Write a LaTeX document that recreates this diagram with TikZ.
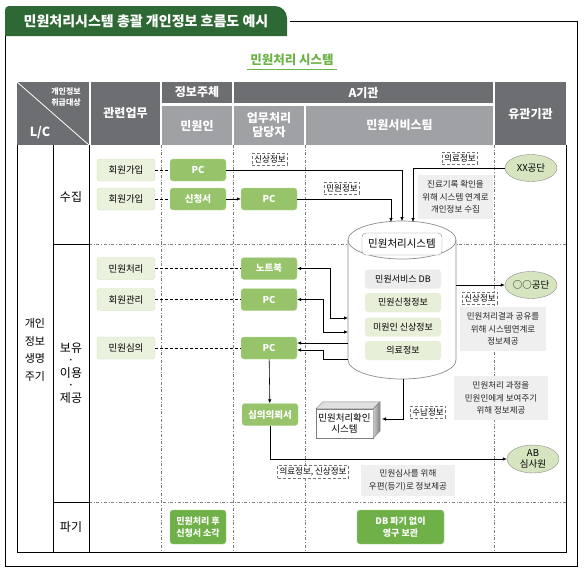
\documentclass[tikz,border=0pt]{standalone}
\usepackage{fontspec}
\setmainfont{Noto Sans CJK KR}
\usetikzlibrary{arrows.meta,shapes.geometric}
\definecolor{tabgreen}{RGB}{46,104,52}
\definecolor{subgreen}{RGB}{108,178,70}
\definecolor{hdark}{RGB}{109,110,113}
\definecolor{hlight}{RGB}{160,161,164}
\definecolor{taskfill}{RGB}{234,242,222}
\definecolor{taskline}{RGB}{207,225,184}
\definecolor{pcfill}{RGB}{151,196,106}
\definecolor{pcline}{RGB}{184,216,156}
\definecolor{endfill}{RGB}{111,176,72}
\definecolor{endline}{RGB}{160,205,130}
\definecolor{orgfill}{RGB}{214,229,192}
\definecolor{notefill}{RGB}{239,239,239}
\definecolor{dbgreen}{RGB}{231,239,217}
\definecolor{dbgray}{RGB}{236,236,236}
\newcommand{\fsz}[2]{\fontsize{#1}{#2}\selectfont}

\begin{document}
\begin{tikzpicture}[x=1pt, y=-1pt, >={Latex[length=4pt,width=3.5pt]},
  headdark/.style={fill=hdark, text=white, inner sep=0pt, align=center, font=\bfseries\fsz{12}{14}},
  headlight/.style={headdark, fill=hlight},
  task/.style={draw=taskline, fill=taskfill, rounded corners=3pt, minimum width=58pt, minimum height=22pt, inner sep=1pt, font=\fsz{9.5}{11}},
  pcbox/.style={draw=pcline, fill=pcfill, rounded corners=3pt, minimum width=56pt, minimum height=22pt, inner sep=1pt, text=white, font=\bfseries\fsz{9.5}{11}},
  endbox/.style={pcbox, fill=endfill, draw=endline, align=center, font=\bfseries\fsz{9}{12}},
  tag/.style={draw=black!55, densely dashed, fill=white, inner sep=2pt, font=\fsz{8.5}{9.5}},
  note/.style={fill=notefill, inner sep=1pt, align=center, font=\fsz{8.5}{12.5}, text=black!85},
  org/.style={ellipse, draw=black!45, fill=orgfill, minimum width=52pt, minimum height=27pt, inner sep=0pt, align=center, font=\fsz{9.5}{10.5}},
  dbitem/.style={rounded corners=3pt, fill=dbgreen, minimum width=76pt, minimum height=19pt, inner sep=1pt, font=\fsz{9}{10}},
  laneline/.style={draw=black!50, dash dot, line width=0.5pt},
  link/.style={densely dashed, line width=0.5pt},
  flow/.style={->, line width=0.6pt}]
  \useasboundingbox (0,0) rectangle (587,576);
  % ---------------------------------------------------------------- title tab and frame
  \fill[tabgreen] (5,36) [rounded corners=4pt] -- (5,6) [rounded corners=12pt] -- (287,6) [sharp corners] -- (287,36) -- cycle;
  \node[text=white, font=\bfseries\fsz{14}{16}] (title) at (146,21) {민원처리시스템 총괄 개인정보 흐름도 예시};
  \draw[line width=0.9pt] (290,21) -- (577,21) -- (577,566) -- (5,566) -- (5,36);
  \node[text=subgreen, font=\bfseries\fsz{12.5}{14}, inner sep=3pt] (subtitle) at (292,60) {민원처리 시스템};
  \draw[subgreen, line width=0.8pt] (subtitle.south west) -- (subtitle.south east);
  % ---------------------------------------------------------------- header row
  \node[headdark, minimum width=72pt, minimum height=63pt] (hLC) at (53,113.5) {};
  \draw[white, line width=0.8pt] (hLC.north west) -- (hLC.south east);
  \node[text=white, font=\bfseries\fsz{8}{11.5}, align=center] (hLCtop) at (66,97) {개인정보\\취급대상};
  \node[text=white, font=\bfseries\fsz{12.5}{14}] (hLCbot) at (40,133) {L/C};
  \node[headdark, minimum width=69pt, minimum height=63pt] (hWork) at (125.5,113.5) {관련업무};
  \node[headdark, minimum width=70pt, minimum height=21pt] (hSubj) at (197,92.5) {정보주체};
  \node[headdark, minimum width=259pt, minimum height=21pt] (hAorg) at (363.5,92.5) {A기관};
  \node[headlight, minimum width=70pt, minimum height=39pt] (hCitizen) at (197,125.5) {민원인};
  \node[headlight, minimum width=70pt, minimum height=39pt] (hStaff) at (269,125.5) {업무처리\\담당자};
  \node[headlight, minimum width=187pt, minimum height=39pt] (hTeam) at (399.5,125.5) {민원서비스팀};
  \node[headdark, minimum width=71pt, minimum height=63pt] (hRel) at (530.5,113.5) {유관기관};
  % ---------------------------------------------------------------- body grid
  \foreach \x in {161,233,305,494}
    \draw[laneline] (\x,145) -- (\x,552);
  \foreach \y in {244,502}
    \draw[laneline] (89,\y) -- (566,\y);
  \draw[line width=0.7pt] (17,145) -- (17,552) -- (566,552) -- (566,145);
  \draw[line width=0.7pt] (53,145) -- (53,552);
  \draw[line width=0.7pt] (89,145) -- (89,552);
  \draw[line width=0.7pt] (53,244) -- (89,244);
  \draw[line width=0.7pt] (53,502) -- (89,502);
  \node[font=\fsz{11}{17.5}, align=center] (lcLabel) at (35,350) {개인\\정보\\생명\\주기};
  \node[font=\fsz{12}{14}] (rCollect) at (71,197) {수집};
  \node[font=\fsz{12}{12.5}, align=center] (rUse) at (71,373) {보유\\·\\이용\\·\\제공};
  \node[font=\fsz{12}{14}] (rDestroy) at (71,527) {파기};
  % ---------------------------------------------------------------- notes
  \node[note, minimum width=75pt, minimum height=44pt] (nXX) at (455.5,197) {진료기록 확인을\\위해 시스템 연계로\\개인정보 수집};
  \node[note, minimum width=86pt, minimum height=44pt] (nOO) at (503,329) {민원처리결과 공유를\\위해 시스템연계로\\정보제공};
  \node[note, minimum width=94pt, minimum height=44pt] (nView) at (501,398) {민원처리 과정을\\민원인에게 보여주기\\위해 정보제공};
  \node[note, minimum width=94pt, minimum height=31pt] (nPost) at (408,480.5) {민원심사를 위해\\우편(등기)로 정보제공};
  % ---------------------------------------------------------------- the system store
  \fill[white] (348,240) -- (348,360) arc[start angle=180, end angle=360, x radius=54pt, y radius=19pt] -- (456,240) arc[start angle=0, end angle=180, x radius=54pt, y radius=19pt] -- cycle;
  \draw[black!45, line width=0.7pt] (348,240) -- (348,360) arc[start angle=180, end angle=360, x radius=54pt, y radius=19pt] -- (456,240);
  \draw[black!45, line width=0.7pt] (402,240) ellipse[x radius=54pt, y radius=19pt];
  \node[draw=black!45, fill=white, rounded corners=4pt, minimum width=80pt, minimum height=22pt, font=\fsz{10.5}{12}] (dbTitle) at (402,244) {민원처리시스템};
  \node[dbitem, fill=dbgray] (dbMain) at (403,279) {민원서비스 DB};
  \node[dbitem] (dbApply) at (403,302.5) {민원신청정보};
  \node[dbitem] (dbPerson) at (403,327) {미원인 신상정보};
  \node[dbitem] (dbMed) at (403,350.5) {의료정보};
  \coordinate (cylInA) at (391,222);
  \coordinate (cylInB) at (402,221);
  \coordinate (cylInC) at (413,222);
  \coordinate (cylL1) at (348,318);
  \coordinate (cylL2) at (348,332);
  \coordinate (cylL3) at (348,343);
  \coordinate (cylL4) at (348,359);
  \coordinate (cylR) at (456,285);
  \coordinate (cylBot) at (403,379);
  % ---------------------------------------------------------------- tasks and media
  \node[task] (jJoinA) at (126,170) {회원가입};
  \node[task] (jJoinB) at (126,199) {회원가입};
  \node[task] (jProc) at (126,268.5) {민원처리};
  \node[task] (jMember) at (126,299.5) {회원관리};
  \node[task] (jReview) at (126,348) {민원심의};
  \node[pcbox] (cPC) at (198,170) {PC};
  \node[pcbox] (cForm) at (198,199) {신청서};
  \node[pcbox] (sPC) at (269,199) {PC};
  \node[pcbox] (sNote) at (269,268.5) {노트북};
  \node[pcbox] (sPCb) at (269,299.5) {PC};
  \node[pcbox] (sPCc) at (269,348) {PC};
  \node[pcbox] (sReport) at (270,414.5) {심의의뢰서};
  \node[endbox, minimum height=34pt] (cBurn) at (198,527) {민원처리 후\\신청서 소각};
  \node[endbox, minimum width=87pt, minimum height=34pt] (dbKeep) at (400.5,527) {DB 파기 없이\\영구 보관};
  % the check system, drawn as a box
  \node[draw=black!50, fill=white, minimum width=57pt, minimum height=29pt, inner sep=0pt, align=center, font=\fsz{9.5}{11}] (confSys) at (344.5,423.5) {민원처리확인\\시스템};
  \filldraw[fill=black!12, draw=black!50] (confSys.north west) -- ++(7,-7) -- ++(57,0) -- (confSys.north east) -- cycle;
  \shadedraw[left color=black!20, right color=black!50, draw=black!50] (confSys.north east) -- ++(7,-7) -- ++(0,29) -- (confSys.south east) -- cycle;
  \coordinate (confIn) at (382,419);
  % ---------------------------------------------------------------- other bodies
  \node[org] (oXX) at (531,168) {XX공단};
  \node[org] (oOO) at (531,285) {○○공단};
  \node[org, minimum height=28pt] (oAB) at (533,459) {AB\\심사원};
  % ---------------------------------------------------------------- connectors
  \draw[link] (jJoinA) -- (cPC);
  \draw[link] (jJoinB) -- (cForm);
  \draw[link] (jProc) -- (sNote);
  \draw[link] (jMember) -- (sPCb);
  \draw[link] (jReview) -- (sPCc);
  \draw[flow] (cForm) -- (sPC);
  \draw[flow] (cPC.east) -| (cylInB);
  \draw[flow] (sPC.east) -| (cylInA);
  \draw[flow] (oXX.west) -| (cylInC);
  \draw[<->, line width=0.6pt] (sNote.east) -- ++(33,0) |- (cylL1);
  \draw[<->, line width=0.6pt] (sPCb.east) -- ++(26,0) |- (cylL2);
  \draw[flow] (cylL3) -- (sPCc.east |- cylL3);
  \draw[flow] (cylL4) -- ++(-25,0) |- ([yshift=-2pt]sPCc.east);
  \draw[flow] (sPCc) -- (sReport);
  \draw[flow] (sReport.south) |- (oAB.west);
  \draw[flow] (cylBot) |- (confIn);
  \draw[flow] (cylR) -- (oOO.west);
  % ---------------------------------------------------------------- data tags
  \node[tag] (tInfoA) at (270,159) {신상정보};
  \node[tag] (tMinwon) at (342,188) {민원정보};
  \node[tag] (tMedA) at (460,158) {의료정보};
  \node[tag] (tInfoB) at (480,298) {신상정보};
  \node[tag] (tPay) at (428,412) {수납정보};
  \node[tag] (tMedB) at (313,472) {의료정보, 신상정보};
\end{tikzpicture}
\end{document}
